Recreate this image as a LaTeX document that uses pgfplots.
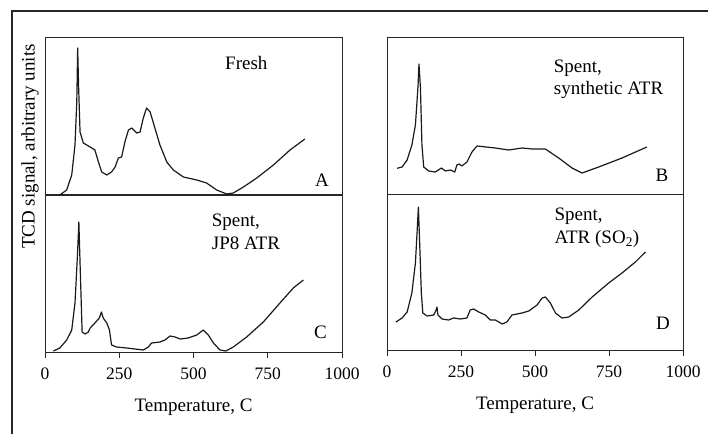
\documentclass[border=0pt]{standalone}
\usepackage{fontspec}
\setmainfont{Liberation Serif}
\usepackage{pgfplots}
\pgfplotsset{compat=1.18}
\pgfplotsset{panel/.style={scale only axis, width=297pt, height=157pt,
  xmin=0, xmax=1000, ymin=0, ymax=157, anchor=south west,
  ytick=\empty, xtick=\empty,
  axis line style={line width=1pt, black!85}},
  curve/.style={black!90, line width=1.2pt, line join=round, no markers},
  ticked/.style={xtick={0,250,500,750,1000}, tick align=outside, major tick length=6pt,
  xtick pos=bottom, tick style={line width=1pt, black!85},
  /pgf/number format/assume math mode=true,
  /pgf/number format/set thousands separator={},
  xticklabel style={font=\fontsize{17.5}{20}\selectfont, yshift=-3pt},
  xlabel={Temperature, C}, xlabel style={font=\fontsize{19}{22}\selectfont, yshift=-7pt}}}
\begin{document}
\fontsize{19}{22}\selectfont
\begin{tikzpicture}
\path[use as bounding box] (0pt,0pt) rectangle (708pt,434pt);
\draw[line width=1.2pt, black!85] (12pt,0pt) -- (12pt,423pt) -- (708pt,423pt);
% Panel A
\begin{axis}[panel, at={(45pt,239pt)}]
\addplot[curve] coordinates {(50,0) (73,5) (90,20) (101,50) (107,93) (110,147) (113,110) (118,63) (129,52) (152,48) (168,45) (180,33) (191,23) (208,20) (224,23) (236,28) (247,37) (258,38) (269,53) (281,65) (292,67) (309,62) (320,63) (331,77) (342,87) (354,83) (370,67) (387,50) (410,33) (432,25) (466,18) (511,15) (544,12) (578,5) (612,1) (634,2) (668,8) (713,17) (769,30) (825,45) (875,56)};
\end{axis}
% Panel C
\begin{axis}[panel, ticked, at={(45pt,82pt)}]
\addplot[curve] coordinates {(28,1) (50,4) (73,12) (90,22) (101,49) (109,95) (114,130) (119,79) (125,20) (135,18) (146,20) (152,24) (168,29) (183,34) (190,40) (196,34) (208,29) (217,22) (224,7) (241,5) (275,4) (331,2) (348,5) (359,9) (387,10) (404,12) (421,16) (438,15) (455,13) (482,14) (511,17) (533,22) (550,17) (567,9) (589,2) (609,1) (634,5) (679,15) (735,30) (791,49) (836,64) (870,72)};
\end{axis}
% Panel B
\begin{axis}[panel, width=296pt, at={(387pt,239pt)}]
\addplot[curve] coordinates {(34,26.7) (51,28) (68,35) (84,50) (96,70) (105,110) (108,131) (113,107) (118,50) (124,28) (141,24) (163,23) (184,27) (197,24) (214,25) (229,23) (236,30) (244,31) (253,29) (270,33) (287,43) (304,49) (366,47) (411,45) (456,47) (490,46) (535,46) (580,37) (625,27) (659,22) (715,28) (794,37) (878,48)};
\end{axis}
% Panel D
\begin{axis}[panel, ticked, width=296pt, height=155pt, ymax=155, at={(387pt,84pt)}]
\addplot[curve] coordinates {(30,28) (51,32) (68,38) (84,57) (96,87) (102,120) (106,143) (110,110) (116,57) (121,37) (135,34) (158,35) (166,40) (169,43) (172,35) (186,31) (208,30) (225,32) (248,31) (270,32) (281,40) (293,41) (310,38) (332,35) (349,30) (366,30) (389,26) (405,28) (422,35) (456,37) (479,39) (507,45) (524,52) (535,53) (552,47) (569,37) (591,32) (614,33) (648,40) (693,53) (749,67) (794,77) (839,88) (873,98)};
\end{axis}
% y label
\node[rotate=90] at (30pt,287.5pt) {TCD signal, arbitrary units};
% panel texts
\node[anchor=base west, inner sep=0pt] at (225pt,364.7pt) {Fresh};
\node[anchor=base west, inner sep=0pt] at (315pt,247.3pt) {A};
\node[anchor=base west, inner sep=0pt] at (553.7pt,361.7pt) {Spent,};
\node[anchor=base west, inner sep=0pt] at (553.7pt,339.7pt) {synthetic ATR};
\node[anchor=base west, inner sep=0pt] at (655.3pt,252.3pt) {B};
\node[anchor=base west, inner sep=0pt] at (211.7pt,207.3pt) {Spent,};
\node[anchor=base west, inner sep=0pt] at (211.7pt,184.7pt) {JP8 ATR};
\node[anchor=base west, inner sep=0pt] at (314pt,95.7pt) {C};
\node[anchor=base west, inner sep=0pt] at (554.3pt,214pt) {Spent,};
\node[anchor=base west, inner sep=0pt] at (554.3pt,190.7pt) {ATR (SO\textsubscript{2})};
\node[anchor=base west, inner sep=0pt] at (656pt,104.7pt) {D};
\end{tikzpicture}
\end{document}
